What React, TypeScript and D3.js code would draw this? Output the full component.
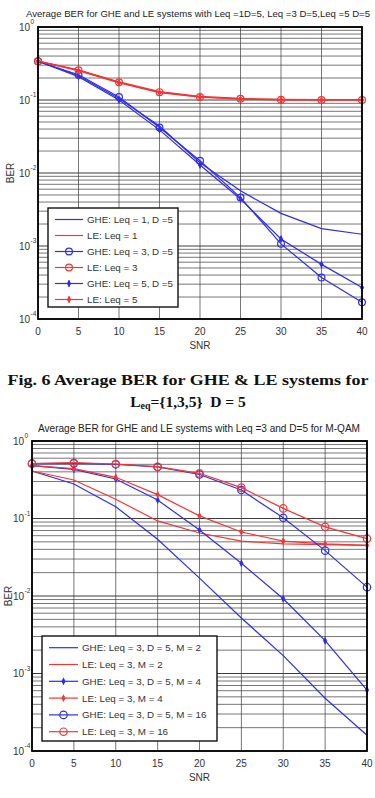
import * as d3 from 'd3';

// x values shared by both plots
const SNR = [0, 5, 10, 15, 20, 25, 30, 35, 40];
const X_TICKS = [0, 5, 10, 15, 20, 25, 30, 35, 40];
const DECADES = [0, -1, -2, -3, -4];

// Fig. 6: Leq = 1, 3, 5 with D = 5
const GHE_LEQ1 = [0.34, 0.215, 0.105, 0.044, 0.0138, 0.0057, 0.0028, 0.00173, 0.00145];
const LE_LEQ1 = [0.34, 0.258, 0.177, 0.13, 0.112, 0.105, 0.102, 0.101, 0.101];
const GHE_LEQ3 = [0.34, 0.222, 0.11, 0.042, 0.0147, 0.0046, 0.00107, 0.00037, 0.00017];
const LE_LEQ3 = [0.34, 0.255, 0.175, 0.128, 0.11, 0.104, 0.101, 0.1, 0.1];
const GHE_LEQ5 = [0.34, 0.208, 0.1, 0.039, 0.0129, 0.0044, 0.00125, 0.00056, 0.00027];
const LE_LEQ5 = [0.34, 0.252, 0.172, 0.126, 0.109, 0.103, 0.1, 0.1, 0.1];

// second plot: Leq = 3, D = 5, M-QAM
const GHE_M2 = [0.41, 0.279, 0.142, 0.054, 0.017, 0.0052, 0.0017, 0.00048, 0.00016];
const LE_M2 = [0.41, 0.314, 0.177, 0.093, 0.065, 0.051, 0.047, 0.046, 0.045];
const GHE_M4 = [0.48, 0.43, 0.323, 0.173, 0.071, 0.0264, 0.0092, 0.00265, 0.00061];
const LE_M4 = [0.48, 0.44, 0.34, 0.203, 0.108, 0.067, 0.051, 0.047, 0.045];
const GHE_M16 = [0.51, 0.515, 0.5, 0.462, 0.37, 0.233, 0.102, 0.0385, 0.013];
const LE_M16 = [0.51, 0.525, 0.505, 0.466, 0.383, 0.25, 0.135, 0.078, 0.055];

const LABELS_1 = ['GHE: Leq = 1, D =5', 'LE: Leq = 1', 'GHE: Leq = 3, D =5', 'LE: Leq = 3', 'GHE: Leq = 5, D =5', 'LE: Leq = 5'];
const LABELS_2 = [
  'GHE: Leq = 3, D = 5, M = 2',
  'LE: Leq = 3, M = 2',
  'GHE: Leq = 3, D = 5, M = 4',
  'LE: Leq = 3, M = 4',
  'GHE: Leq = 3, D = 5, M = 16',
  'LE: Leq = 3, M = 16',
];

const BLUE = '#2e2ee6';
const RED = '#f23636';
const FONT = "'Liberation Sans', Arial, sans-serif";

type Marker = 'none' | 'circle' | 'star';
interface Series {
  label: string;
  values: number[];
  color: string;
  marker: Marker;
}

const series1: Series[] = [
  { label: LABELS_1[0], values: GHE_LEQ1, color: BLUE, marker: 'none' },
  { label: LABELS_1[1], values: LE_LEQ1, color: RED, marker: 'none' },
  { label: LABELS_1[2], values: GHE_LEQ3, color: BLUE, marker: 'circle' },
  { label: LABELS_1[3], values: LE_LEQ3, color: RED, marker: 'circle' },
  { label: LABELS_1[4], values: GHE_LEQ5, color: BLUE, marker: 'star' },
  { label: LABELS_1[5], values: LE_LEQ5, color: RED, marker: 'star' },
];

const series2: Series[] = [
  { label: LABELS_2[0], values: GHE_M2, color: BLUE, marker: 'none' },
  { label: LABELS_2[1], values: LE_M2, color: RED, marker: 'none' },
  { label: LABELS_2[2], values: GHE_M4, color: BLUE, marker: 'star' },
  { label: LABELS_2[3], values: LE_M4, color: RED, marker: 'star' },
  { label: LABELS_2[4], values: GHE_M16, color: BLUE, marker: 'circle' },
  { label: LABELS_2[5], values: LE_M16, color: RED, marker: 'circle' },
];

const starPath = d3.symbol().type(d3.symbolDiamond).size(9)() as string;

function MarkerGlyph({ kind, x, y, color, r }: { kind: Marker; x: number; y: number; color: string; r: number }) {
  if (kind === 'circle') return <circle cx={x} cy={y} r={r} fill="none" stroke={color} strokeWidth={1.2} />;
  if (kind === 'star')
    return (
      <g transform={`translate(${x},${y})`}>
        <path d={starPath} fill={color} stroke={color} strokeWidth={1} />
        <line y1={-3.5} y2={3.5} stroke={color} strokeWidth={1.1} />
      </g>
    );
  return null;
}

interface LegendBox {
  x: number;
  y: number;
  w: number;
  h: number;
  row0: number;
  step: number;
  line0: number;
  line1: number;
  textX: number;
}

interface ChartProps {
  left: number;
  right: number;
  top: number;
  bottom: number;
  title: string;
  titleX: number;
  titleY: number;
  titleLen: number;
  titleSize: number;
  series: Series[];
  legend: LegendBox;
  circleR: number;
  yLabelX: number;
}

function BerChart({ left, right, top, bottom, title, titleX, titleY, titleLen, titleSize, series, legend, circleR, yLabelX }: ChartProps) {
  const x = d3.scaleLinear().domain([0, 40]).range([left, right]);
  const y = d3.scaleLog().domain([1e-4, 1]).range([bottom, top]);
  const line = d3
    .line<number>()
    .x((_, i) => x(SNR[i]))
    .y((v) => y(v));

  const minor: number[] = [];
  for (let e = -4; e < 0; e++) for (let k = 2; k <= 9; k++) minor.push(k * Math.pow(10, e));

  const midX = (left + right) / 2;
  const midY = (top + bottom) / 2;

  return (
    <g fontFamily={FONT}>
      <text x={titleX} y={titleY} textAnchor="middle" dominantBaseline="central" fontSize={titleSize} fill="#222" textLength={titleLen} lengthAdjust="spacingAndGlyphs">
        {title}
      </text>
      <rect x={left} y={top} width={right - left} height={bottom - top} fill="#fff" />
      {/* grid */}
      <g stroke="#3c3c3c" strokeWidth={0.7}>
        {minor.map((v) => (
          <line key={`m${v}`} x1={left} x2={right} y1={y(v)} y2={y(v)} />
        ))}
        {DECADES.map((e) => (
          <line key={`d${e}`} x1={left} x2={right} y1={y(Math.pow(10, e))} y2={y(Math.pow(10, e))} strokeWidth={1} />
        ))}
        {X_TICKS.map((t) => (
          <line key={`x${t}`} x1={x(t)} x2={x(t)} y1={top} y2={bottom} />
        ))}
      </g>
      {/* series */}
      {series.map((s) => (
        <g key={s.label}>
          <path d={line(s.values) as string} fill="none" stroke={s.color} strokeWidth={1.2} />
          {s.values.map((v, i) => (
            <MarkerGlyph key={i} kind={s.marker} x={x(SNR[i])} y={y(v)} color={s.color} r={circleR} />
          ))}
        </g>
      ))}
      <rect x={left} y={top} width={right - left} height={bottom - top} fill="none" stroke="#000" strokeWidth={1.8} />
      {/* x tick labels */}
      {X_TICKS.map((t) => (
        <text key={t} x={x(t)} y={bottom + 12} textAnchor="middle" dominantBaseline="central" fontSize={10} fill="#333">
          {t}
        </text>
      ))}
      {/* y tick labels: base "10" ends just left of the exponent */}
      {DECADES.map((e) => (
        <g key={e} fill="#333">
          <text x={left - 8} y={y(Math.pow(10, e)) + 3.5} textAnchor="end" fontSize={10}>
            10
          </text>
          <text x={left - 7.5} y={y(Math.pow(10, e)) - 3} fontSize={6.5}>
            {e}
          </text>
        </g>
      ))}
      <text x={midX} y={bottom + 26} textAnchor="middle" dominantBaseline="central" fontSize={10} fill="#333">
        SNR
      </text>
      <text transform={`translate(${yLabelX},${midY}) rotate(-90)`} textAnchor="middle" dominantBaseline="central" fontSize={10} fill="#333">
        BER
      </text>
      {/* legend */}
      <rect x={legend.x} y={legend.y} width={legend.w} height={legend.h} fill="#fff" stroke="#111" strokeWidth={1.4} />
      {series.map((s, i) => {
        const ry = legend.row0 + i * legend.step;
        return (
          <g key={s.label}>
            <line x1={legend.line0} x2={legend.line1} y1={ry} y2={ry} stroke={s.color} strokeWidth={1.2} />
            <MarkerGlyph kind={s.marker} x={(legend.line0 + legend.line1) / 2} y={ry} color={s.color} r={circleR} />
            <text x={legend.textX} y={ry} dominantBaseline="central" fontSize={9.8} fill="#333">
              {s.label}
            </text>
          </g>
        );
      })}
    </g>
  );
}

export default function App() {
  return (
    <svg width={375} height={798} style={{ position: 'absolute', left: 0, top: 0, background: '#fff' }}>
      <rect width={375} height={798} fill="#fff" />
      <BerChart
        left={38}
        right={362}
        top={27}
        bottom={319}
        title="Average BER for GHE and LE systems with Leq =1D=5, Leq =3 D=5,Leq =5 D=5"
        titleX={198}
        titleY={13.5}
        titleLen={344}
        titleSize={9.2}
        series={series1}
        circleR={3.4}
        yLabelX={10}
        legend={{ x: 48, y: 208, w: 130, h: 99, row0: 219.5, step: 16, line0: 55, line1: 83, textX: 87 }}
      />
      <g fontFamily="'Liberation Serif', 'Times New Roman', serif" fontWeight="bold" fill="#111">
        <text x={188} y={379} textAnchor="middle" dominantBaseline="central" fontSize={15.5} textLength={361} lengthAdjust="spacingAndGlyphs">
          Fig. 6 Average BER for GHE &amp; LE systems for
        </text>
        <text x={188} y={401} textAnchor="middle" dominantBaseline="central" fontSize={15.5}>
          L
          <tspan fontSize={10} dy={4}>
            eq
          </tspan>
          <tspan dy={-4}>{'={1,3,5}\u00a0\u00a0D = 5'}</tspan>
        </text>
      </g>
      <BerChart
        left={32}
        right={367}
        top={441}
        bottom={751}
        title="Average BER for GHE and LE systems with Leq =3 and D=5 for M-QAM"
        titleX={199}
        titleY={428}
        titleLen={322}
        titleSize={10}
        series={series2}
        circleR={3.7}
        yLabelX={8}
        legend={{ x: 42, y: 636, w: 175, h: 105, row0: 647.7, step: 16.8, line0: 49, line1: 78, textX: 82 }}
      />
    </svg>
  );
}
